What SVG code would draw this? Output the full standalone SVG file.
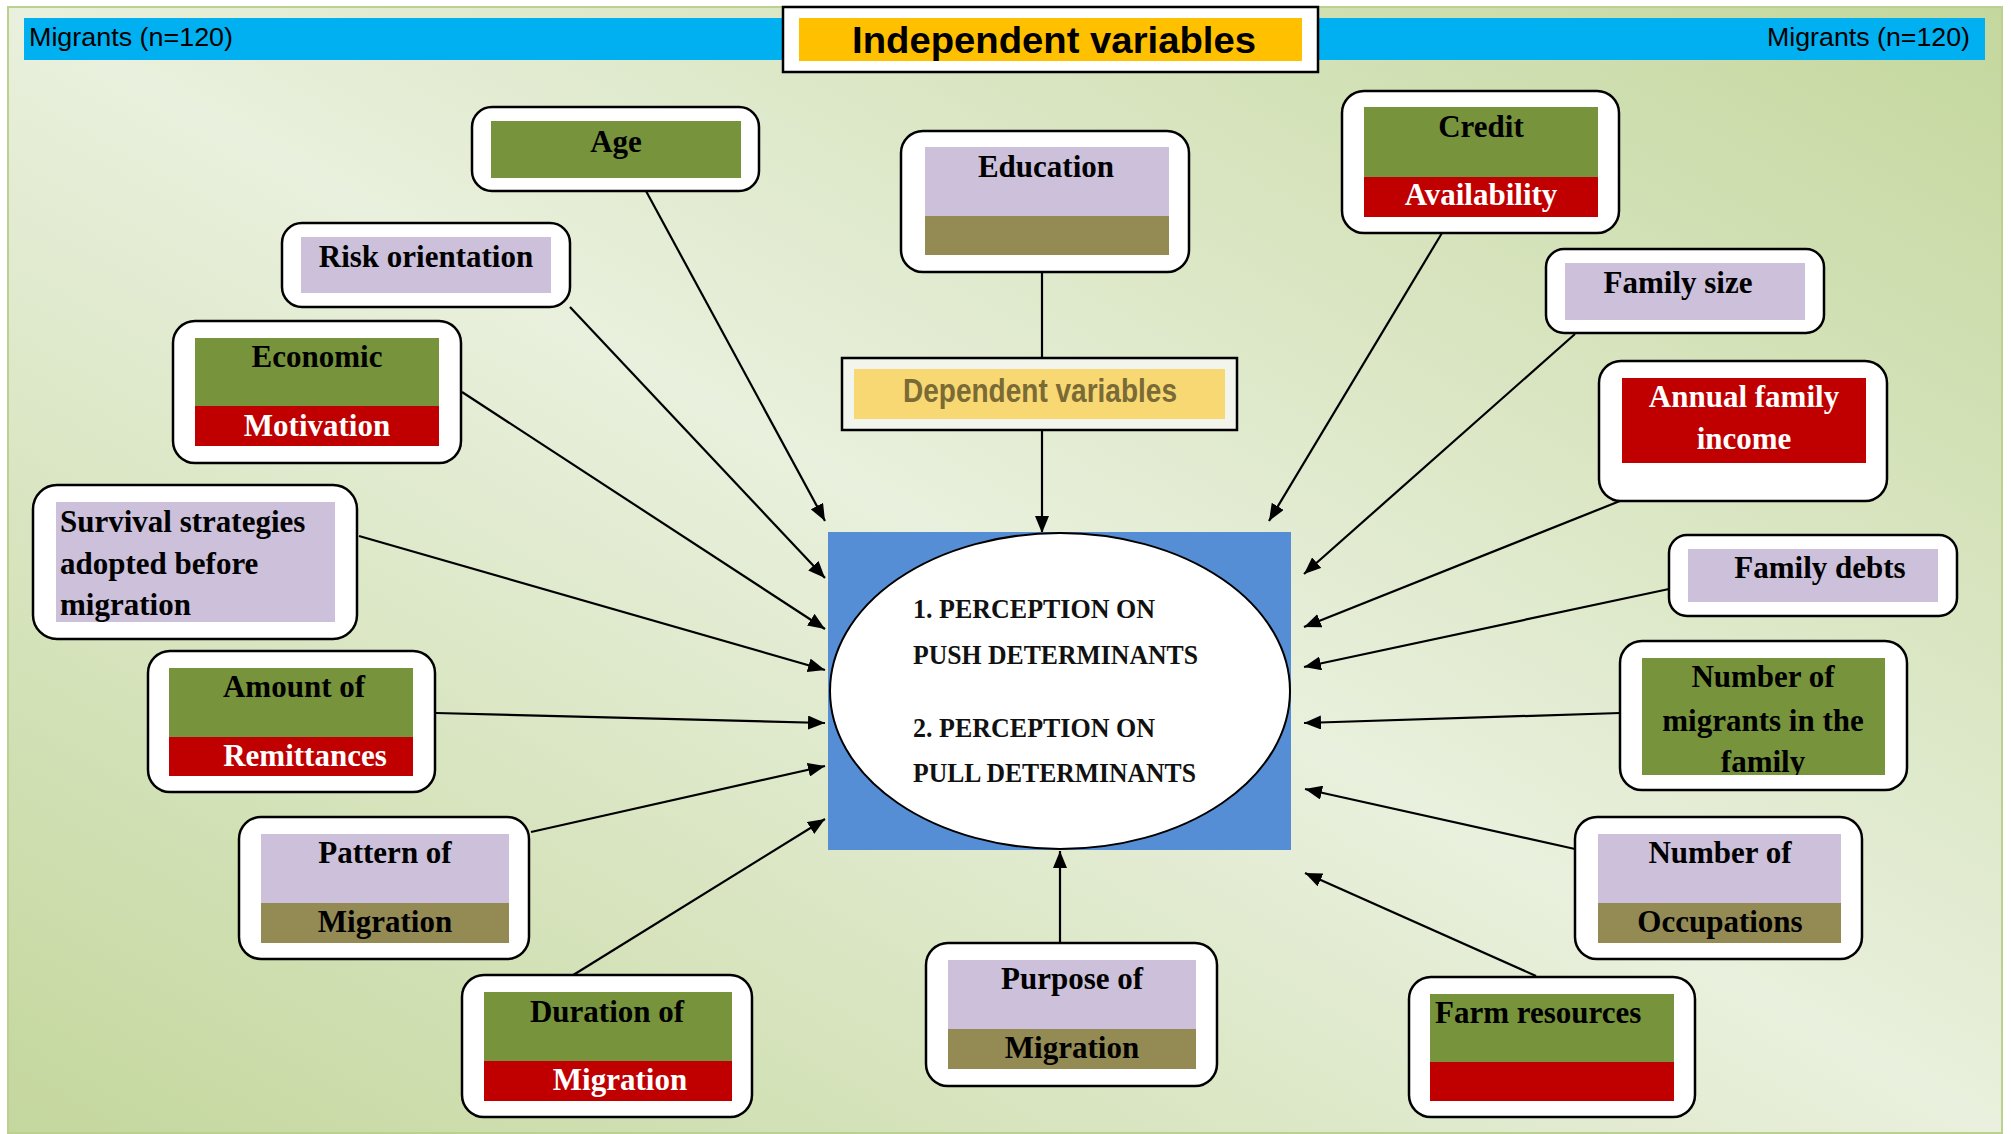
<svg xmlns="http://www.w3.org/2000/svg" width="2011" height="1134" viewBox="0 0 2011 1134">
<defs>
<linearGradient id="bg" x1="0" y1="1" x2="1" y2="0">
<stop offset="0" stop-color="#c4d79d"/>
<stop offset="0.5" stop-color="#e9f0dd"/>
<stop offset="1" stop-color="#c4d79d"/>
</linearGradient>
<marker id="ah" markerUnits="userSpaceOnUse" markerWidth="18" markerHeight="14" refX="17" refY="7" orient="auto">
<path d="M0,0 L17,7 L0,14 z" fill="#000"/>
</marker>
<clipPath id="clipMig"><rect x="1642" y="658" width="243" height="117"/></clipPath>
</defs>
<style>
.box{fill:#fff;stroke:#000;stroke-width:2.5}
.g{fill:#77933c}.r{fill:#c00000}.l{fill:#ccc0da}.o{fill:#948a54}
.t{font-family:"Liberation Serif","Times New Roman",serif;font-weight:bold;font-size:31px;fill:#000}
.w{fill:#fff}
.m{text-anchor:middle}
.c{stroke:#000;stroke-width:2.2;fill:none;marker-end:url(#ah)}
.hdr{font-family:"Liberation Sans",Arial,sans-serif;font-size:26px;fill:#000}
.alg{font-family:"Liberation Serif","Times New Roman",serif;font-weight:bold;font-size:27px;fill:#111}
</style>
<rect x="0" y="0" width="2011" height="1134" fill="#fff"/>
<rect x="8" y="7" width="1994" height="1126" fill="url(#bg)" stroke="#bcd18f" stroke-width="2"/>

<g id="header">
<rect x="24" y="18" width="1961" height="42" fill="#00b0f0"/>
<text class="hdr" x="29" y="46" textLength="204" lengthAdjust="spacingAndGlyphs">Migrants (n=120)</text>
<text class="hdr" x="1767" y="46" textLength="203" lengthAdjust="spacingAndGlyphs">Migrants (n=120)</text>
</g>

<g id="independent-title">
<rect x="783" y="7" width="535" height="65" fill="#fff" stroke="#000" stroke-width="2.5"/>
<rect x="799" y="18" width="503" height="43" fill="#ffc000"/>
<text x="1054" y="53" text-anchor="middle" font-family="'Liberation Sans',Arial,sans-serif" font-weight="bold" font-size="36" textLength="404" lengthAdjust="spacingAndGlyphs">Independent variables</text>
</g>

<g id="connectors">
<line class="c" x1="646" y1="191" x2="825" y2="521"/>
<line class="c" x1="570" y1="307" x2="825" y2="578"/>
<line class="c" x1="462" y1="392" x2="825" y2="629"/>
<line class="c" x1="359" y1="536" x2="825" y2="670"/>
<line class="c" x1="436" y1="713" x2="825" y2="723"/>
<line class="c" x1="531" y1="832" x2="825" y2="766"/>
<line class="c" x1="570" y1="977" x2="825" y2="819"/>
<line class="c" x1="1060" y1="943" x2="1060" y2="851"/>
<line class="c" x1="1536" y1="976" x2="1305" y2="873"/>
<line class="c" x1="1575" y1="849" x2="1305" y2="789"/>
<line class="c" x1="1620" y1="713" x2="1304" y2="723"/>
<line class="c" x1="1669" y1="589" x2="1304" y2="667"/>
<line class="c" x1="1620" y1="501" x2="1304" y2="627"/>
<line class="c" x1="1575" y1="334" x2="1304" y2="574"/>
<line class="c" x1="1442" y1="233" x2="1269" y2="521"/>
<line x1="1042" y1="272" x2="1042" y2="358" stroke="#000" stroke-width="2.2"/>
<line class="c" x1="1042" y1="430" x2="1042" y2="533"/>
</g>

<g id="dependent-variables">
<rect x="842" y="358" width="395" height="72" fill="#f2f5ec" stroke="#000" stroke-width="2.5"/>
<rect x="854" y="369" width="371" height="50" fill="#f8d872"/>
<text x="1040" y="402" text-anchor="middle" font-family="'Liberation Sans',Arial,sans-serif" font-weight="bold" font-size="33" fill="#7a6a36" textLength="274" lengthAdjust="spacingAndGlyphs">Dependent variables</text>
</g>

<g id="perception">
<rect x="828" y="532" width="463" height="318" fill="#558ed5"/>
<ellipse cx="1060" cy="691" rx="230" ry="158" fill="#fff" stroke="#000" stroke-width="2"/>
<text class="alg" x="913" y="618" textLength="242" lengthAdjust="spacingAndGlyphs">1. PERCEPTION ON</text>
<text class="alg" x="913" y="664" textLength="285" lengthAdjust="spacingAndGlyphs">PUSH DETERMINANTS</text>
<text class="alg" x="913" y="737" textLength="242" lengthAdjust="spacingAndGlyphs">2. PERCEPTION ON</text>
<text class="alg" x="913" y="782" textLength="283" lengthAdjust="spacingAndGlyphs">PULL DETERMINANTS</text>
</g>

<g id="age">
<rect class="box" x="472" y="107" width="287" height="84" rx="20"/>
<rect class="g" x="491" y="121" width="250" height="57"/>
<text class="t m" x="616" y="152">Age</text>
</g>

<g id="education">
<rect class="box" x="901" y="131" width="288" height="141" rx="22"/>
<rect class="l" x="925" y="147" width="244" height="69"/>
<rect class="o" x="925" y="216" width="244" height="39"/>
<text class="t m" x="1046" y="177">Education</text>
</g>

<g id="credit">
<rect class="box" x="1342" y="91" width="277" height="142" rx="22"/>
<rect class="g" x="1364" y="107" width="234" height="70"/>
<rect class="r" x="1364" y="177" width="234" height="40"/>
<text class="t m" x="1481" y="137">Credit</text>
<text class="t m w" x="1481" y="205">Availability</text>
</g>

<g id="risk-orientation">
<rect class="box" x="282" y="223" width="288" height="84" rx="20"/>
<rect class="l" x="301" y="237" width="250" height="56"/>
<text class="t m" x="426" y="267">Risk orientation</text>
</g>

<g id="economic-motivation">
<rect class="box" x="173" y="321" width="288" height="142" rx="22"/>
<rect class="g" x="195" y="338" width="244" height="68"/>
<rect class="r" x="195" y="406" width="244" height="40"/>
<text class="t m" x="317" y="367">Economic</text>
<text class="t m w" x="317" y="436">Motivation</text>
</g>

<g id="survival-strategies">
<rect class="box" x="33" y="485" width="324" height="154" rx="24"/>
<rect class="l" x="56" y="502" width="279" height="120"/>
<text class="t" x="60" y="532">Survival strategies</text>
<text class="t" x="60" y="574">adopted before</text>
<text class="t" x="60" y="615">migration</text>
</g>

<g id="amount-remittances">
<rect class="box" x="148" y="651" width="287" height="141" rx="22"/>
<rect class="g" x="169" y="668" width="244" height="69"/>
<rect class="r" x="169" y="737" width="244" height="39"/>
<text class="t m" x="294" y="697">Amount of</text>
<text class="t m w" x="305" y="766">Remittances</text>
</g>

<g id="pattern-migration">
<rect class="box" x="239" y="817" width="290" height="142" rx="22"/>
<rect class="l" x="261" y="834" width="248" height="69"/>
<rect class="o" x="261" y="903" width="248" height="40"/>
<text class="t m" x="385" y="863">Pattern of</text>
<text class="t m" x="385" y="932">Migration</text>
</g>

<g id="duration-migration">
<rect class="box" x="462" y="975" width="290" height="142" rx="22"/>
<rect class="g" x="484" y="992" width="248" height="69"/>
<rect class="r" x="484" y="1061" width="248" height="40"/>
<text class="t m" x="607" y="1022">Duration of</text>
<text class="t m w" x="620" y="1090">Migration</text>
</g>

<g id="purpose-migration">
<rect class="box" x="926" y="943" width="291" height="143" rx="22"/>
<rect class="l" x="948" y="960" width="248" height="69"/>
<rect class="o" x="948" y="1029" width="248" height="40"/>
<text class="t m" x="1072" y="989">Purpose of</text>
<text class="t m" x="1072" y="1058">Migration</text>
</g>

<g id="farm-resources">
<rect class="box" x="1409" y="977" width="286" height="140" rx="22"/>
<rect class="g" x="1430" y="994" width="244" height="68"/>
<rect class="r" x="1430" y="1062" width="244" height="39"/>
<text class="t" x="1435" y="1023">Farm resources</text>
</g>

<g id="number-occupations">
<rect class="box" x="1575" y="817" width="287" height="142" rx="22"/>
<rect class="l" x="1598" y="834" width="243" height="69"/>
<rect class="o" x="1598" y="903" width="243" height="40"/>
<text class="t m" x="1720" y="863">Number of</text>
<text class="t m" x="1720" y="932">Occupations</text>
</g>

<g id="number-migrants">
<rect class="box" x="1620" y="641" width="287" height="149" rx="22"/>
<rect class="g" x="1642" y="658" width="243" height="117"/>
<g clip-path="url(#clipMig)">
<text class="t m" x="1763" y="687">Number of</text>
<text class="t m" x="1763" y="731">migrants in the</text>
<text class="t m" x="1763" y="772">family</text>
</g>
</g>

<g id="family-debts">
<rect class="box" x="1669" y="535" width="288" height="81" rx="18"/>
<rect class="l" x="1688" y="549" width="250" height="53"/>
<text class="t m" x="1820" y="578">Family debts</text>
</g>

<g id="annual-income">
<rect class="box" x="1599" y="361" width="288" height="140" rx="22"/>
<rect class="r" x="1622" y="378" width="244" height="85"/>
<text class="t m w" x="1744" y="407">Annual family</text>
<text class="t m w" x="1744" y="449">income</text>
</g>

<g id="family-size">
<rect class="box" x="1546" y="249" width="278" height="84" rx="18"/>
<rect class="l" x="1565" y="263" width="240" height="57"/>
<text class="t m" x="1678" y="293">Family size</text>
</g>
</svg>
